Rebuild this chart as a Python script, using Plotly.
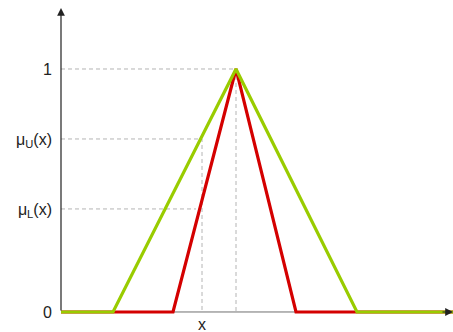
import plotly.graph_objects as go

# Data (x in arbitrary units, membership grade in [0,1])
x_end = 9.8
upper_x = [0.0, 1.3, 4.375, 7.4, 9.8]      # upper (green) membership function
upper_y = [0.0, 0.0, 1.0, 0.0, 0.0]
lower_x = [0.0, 2.8, 4.375, 5.875, 9.8]    # lower (red) membership function
lower_y = [0.0, 0.0, 1.0, 0.0, 0.0]
x_point = 3.525
mu_u = 0.712
mu_l = 0.424
mu_l_x = 3.375
peak_x = 4.375

ytick_vals = [0, mu_l, mu_u, 1]
ytick_text = ["0", "μ<sub>L</sub>(x)", "μ<sub>U</sub>(x)", "1"]

GREEN = "#99cc00"
RED = "#d40000"
GRID = "#b4b4b4"
DASH = "4px,3px"

fig = go.Figure()

# guide lines
fig.add_trace(go.Scatter(x=[0, peak_x, peak_x], y=[1, 1, 0], mode="lines",
                         line=dict(color=GRID, width=1, dash=DASH), hoverinfo="skip"))
fig.add_trace(go.Scatter(x=[0, x_point, x_point], y=[mu_u, mu_u, 0], mode="lines",
                         line=dict(color=GRID, width=1, dash=DASH), hoverinfo="skip"))
fig.add_trace(go.Scatter(x=[0, mu_l_x], y=[mu_l, mu_l], mode="lines",
                         line=dict(color=GRID, width=1, dash=DASH), hoverinfo="skip"))

# x axis line (gray)
fig.add_trace(go.Scatter(x=[0, x_end], y=[0, 0], mode="lines",
                         line=dict(color="#707070", width=1), hoverinfo="skip"))

fig.add_trace(go.Scatter(x=lower_x, y=lower_y, mode="lines",
                         line=dict(color=RED, width=3.2)))
fig.add_trace(go.Scatter(x=upper_x, y=upper_y, mode="lines",
                         line=dict(color=GREEN, width=3.2)))

# axis arrows
fig.add_annotation(x=0, y=1.251, ax=0, ay=0, axref="x", ayref="y", xref="x", yref="y",
                   text="", showarrow=True, arrowhead=2, arrowsize=1.3, arrowwidth=1.2,
                   arrowcolor="#222222")
fig.add_annotation(x=x_end, y=0, ax=x_end - 0.3, ay=0, axref="x", ayref="y", xref="x", yref="y",
                   text="", showarrow=True, arrowhead=2, arrowsize=1.3, arrowwidth=1.2,
                   arrowcolor="#222222")

# x label
fig.add_annotation(x=x_point, y=0, xref="x", yref="y", text="x", showarrow=False,
                   yanchor="top", yshift=-2, font=dict(size=16, color="#222222"))

fig.update_layout(
    width=453, height=332,
    margin=dict(l=61, r=0, t=8, b=12),
    plot_bgcolor="white", paper_bgcolor="white",
    showlegend=False,
    font=dict(family="Liberation Sans, Arial, sans-serif", size=16, color="#222222"),
    xaxis=dict(range=[0, x_end], showgrid=False, zeroline=False, showline=False,
               showticklabels=False, ticks=""),
    yaxis=dict(range=[-0.033, 1.251], showgrid=False, zeroline=False, showline=False,
               tickvals=ytick_vals, ticktext=ytick_text, ticks="",
               ticklabelstandoff=8),
)

fig.write_html("out.html",
               config={"displayModeBar": False},
               post_script="document.body.style.margin='0';document.body.style.overflow='hidden';")
